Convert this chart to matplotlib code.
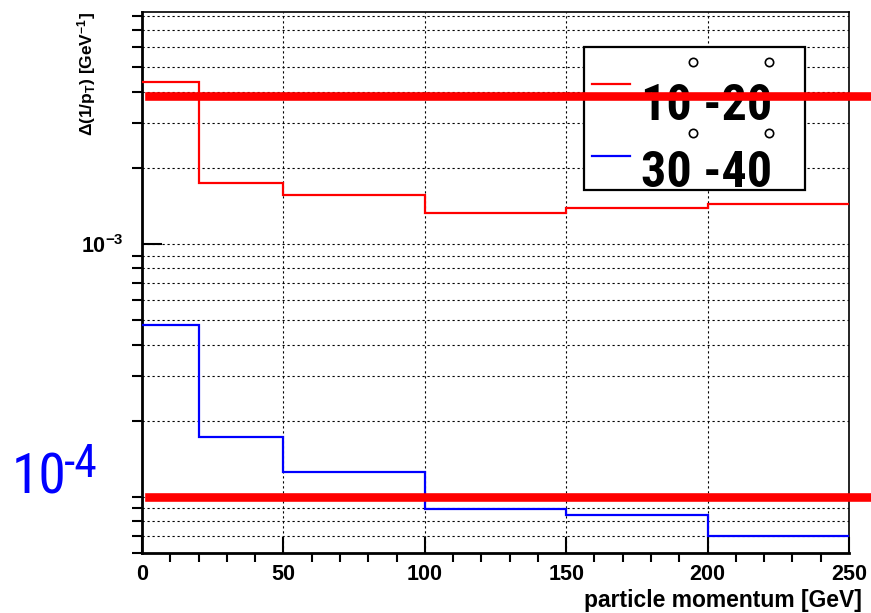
import numpy as np
import matplotlib
matplotlib.use('Agg')
import matplotlib.pyplot as plt
from matplotlib import font_manager
from matplotlib.ticker import FixedLocator, LogLocator, MultipleLocator, NullFormatter, FuncFormatter
from matplotlib.patches import Rectangle

plt.rcParams['font.family'] = ['Liberation Sans', 'DejaVu Sans']
plt.rcParams['font.weight'] = 'bold'
plt.rcParams['mathtext.default'] = 'regular'

# momentum bins [GeV]
bin_edges = [0, 20, 50, 100, 150, 200, 250]
# resolution on 1/pT for the two ranges
res_10_20 = [4.38e-3, 1.738e-3, 1.562e-3, 1.329e-3, 1.384e-3, 1.439e-3]
res_30_40 = [4.78e-4, 1.731e-4, 1.259e-4, 8.94e-5, 8.49e-5, 7.03e-5]
legend_labels = ['10 -20', '30 -40']
series_colors = ['red', 'blue']
# thick red reference lines drawn on top
ref_levels = [3.83e-3, 1.0e-4]

# look for a narrow font for the legend, otherwise shrink a bit
names = {f.name: f for f in font_manager.fontManager.ttflist}
narrow = None
for cand in ['Liberation Sans Narrow', 'Roboto Condensed', 'Noto Sans Condensed',
             'Open Sans Condensed', 'DejaVu Sans Condensed']:
    if cand in names:
        narrow = cand
        break
if narrow is None:
    narrow_font = dict(family=['Liberation Sans'])
    leg_size, big_size = 32, 36
else:
    narrow_font = dict(family=[narrow, 'Liberation Sans'])
    leg_size, big_size = 36, 40

W, H = 871, 613
fig = plt.figure(figsize=(W / 100, H / 100), dpi=100)
ax = fig.add_axes([142 / W, 60 / H, 707 / W, 541 / H])

for vals, col in zip([res_10_20, res_30_40], series_colors):
    ax.stairs(vals, bin_edges, color=col, lw=1.6, baseline=None, zorder=3)

ax.set_yscale('log')
ax.set_xlim(0, 250)
ax.set_ylim(6.0e-5, 8.26e-3)

ax.xaxis.set_major_locator(MultipleLocator(50))
ax.xaxis.set_minor_locator(MultipleLocator(10))
ax.yaxis.set_major_locator(FixedLocator([1e-3]))
ax.yaxis.set_minor_locator(LogLocator(base=10.0, subs=np.arange(1, 10), numticks=20))
ax.yaxis.set_minor_formatter(NullFormatter())
ax.yaxis.set_major_formatter(FuncFormatter(lambda v, p: r'$10^{%d}$' % round(np.log10(v))))

ax.tick_params(direction='in', top=False, right=False, width=1.5, labelsize=15.5)
ax.tick_params(axis='x', which='major', length=11.5, pad=8)
ax.tick_params(axis='x', which='minor', length=6.5, width=1.5)
ax.tick_params(axis='y', which='major', length=14.4, pad=13)
ax.tick_params(axis='y', which='minor', length=7.2, width=1.5)

grid_style = dict(color='black', lw=0.8, ls=(0, (2, 2.5)))
ax.grid(True, which='major', axis='x', **grid_style)
ax.grid(True, which='both', axis='y', **grid_style)

for side in ['left', 'bottom']:
    ax.spines[side].set_linewidth(2)
for side in ['top', 'right']:
    ax.spines[side].set_linewidth(1.2)

fig.text(87 / W, 1 - 12 / H, r'Δ(1/p$_T$) [GeV$^{-1}$]', rotation=90,
         ha='center', va='top', fontsize=12.5)
fig.text(862 / W, 1 - 601 / H, 'particle momentum [GeV]', ha='right',
         va='center', fontsize=16.5)

# legend box
ax.add_patch(Rectangle((0.6252, 0.6710), 0.3126, 0.2643, transform=ax.transAxes,
                       facecolor='white', edgecolor='black', lw=1.6, zorder=5,
                       clip_on=False))
for i, (lab, col) in enumerate(zip(legend_labels, series_colors)):
    ly = [0.8669, 0.7338][i]
    by = [0.8004, 0.6765][i]
    cy = [0.9076, 0.7763][i]
    ax.plot([0.6365, 0.6902], [ly, ly], color=col, lw=1.6, transform=ax.transAxes,
            zorder=6, clip_on=False)
    ax.text(0.7058, by, lab, transform=ax.transAxes, fontsize=leg_size,
            va='baseline', ha='left', zorder=6, **narrow_font)
    # little degree rings above the numbers
    ax.plot([0.7793, 0.8869], [cy, cy], ls='none', marker='o', ms=6, mfc='white',
            mec='black', mew=1.2, transform=ax.transAxes, zorder=6, clip_on=False)

for lev in ref_levels:
    ax.axhline(lev, xmin=7 / 707, xmax=729 / 707, color='red', lw=6.2,
               clip_on=False, zorder=10)

# hand written label next to the lower reference line
fig.text(12 / W, (H - 493) / H, '10', color='blue', fontsize=big_size,
         fontweight='normal', va='baseline', ha='left', **narrow_font)
fig.text(64 / W, (H - 477) / H, '-4', color='blue', fontsize=big_size * 0.82,
         fontweight='normal', va='baseline', ha='left', **narrow_font)

fig.savefig('out.png', dpi=100)
